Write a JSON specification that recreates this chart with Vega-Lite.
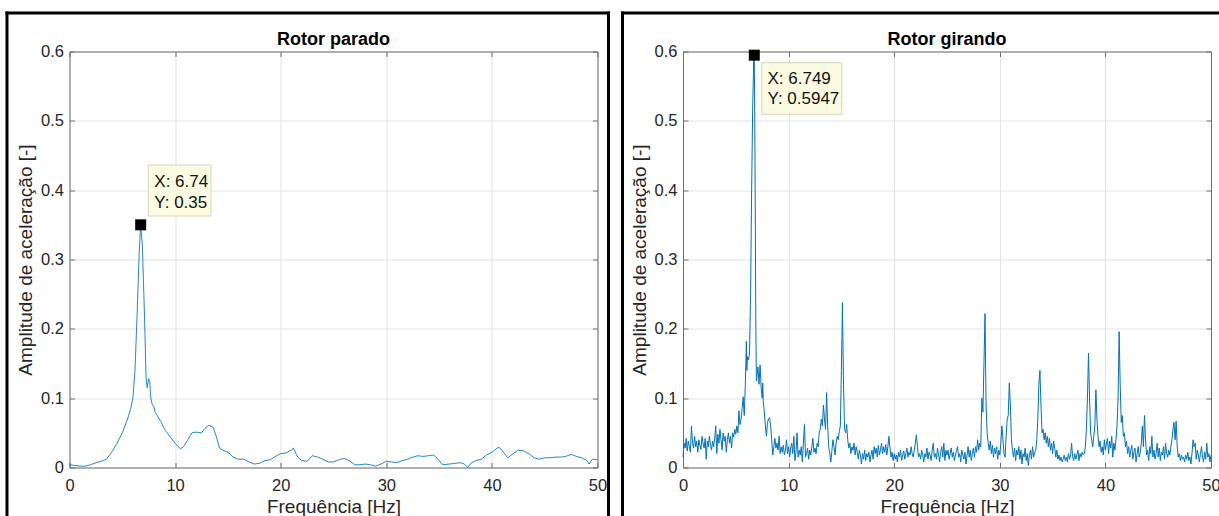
{
"$schema": "https://vega.github.io/schema/vega-lite/v6.json",
"background": "white",
"padding": {"left": 4.5, "top": 10.5, "right": 0, "bottom": 0},
"spacing": 8.5,
"config": {"view": {"stroke": null}, "font": "Liberation Sans"},
"datasets": {
"parado": [
{"f":0,"a":0.004},{"f":0.5,"a":0.003},{"f":1,"a":0.002},{"f":1.5,"a":0.002},{"f":2,"a":0.004},{"f":2.5,"a":0.007},{"f":3,"a":0.009},{"f":3.5,"a":0.012},{"f":4,"a":0.022},{"f":4.5,"a":0.035},{"f":5,"a":0.05},{"f":5.5,"a":0.07},{"f":5.8,"a":0.085},{"f":6.0,"a":0.1},{"f":6.2,"a":0.14},{"f":6.4,"a":0.22},{"f":6.6,"a":0.31},{"f":6.74,"a":0.35},{"f":6.9,"a":0.32},{"f":7.1,"a":0.22},{"f":7.25,"a":0.13},{"f":7.35,"a":0.115},{"f":7.5,"a":0.128},{"f":7.6,"a":0.124},{"f":7.7,"a":0.1},{"f":7.85,"a":0.09},{"f":8.0,"a":0.088},{"f":8.1,"a":0.08},{"f":8.3,"a":0.075},{"f":8.7,"a":0.065},{"f":9.0,"a":0.055},{"f":9.5,"a":0.045},{"f":10.0,"a":0.035},{"f":10.5,"a":0.027},{"f":10.8,"a":0.03},{"f":11.2,"a":0.04},{"f":11.6,"a":0.05},{"f":12.0,"a":0.051},{"f":12.5,"a":0.05},{"f":12.8,"a":0.056},{"f":13.2,"a":0.061},{"f":13.6,"a":0.058},{"f":13.9,"a":0.045},{"f":14.2,"a":0.028},{"f":14.5,"a":0.025},{"f":15,"a":0.022},{"f":15.5,"a":0.015},{"f":16,"a":0.012},{"f":16.5,"a":0.012},{"f":17,"a":0.008},{"f":17.5,"a":0.005},{"f":18,"a":0.006},{"f":18.5,"a":0.01},{"f":19,"a":0.011},{"f":19.5,"a":0.016},{"f":20,"a":0.02},{"f":20.5,"a":0.021},{"f":21,"a":0.025},{"f":21.2,"a":0.028},{"f":21.6,"a":0.015},{"f":22,"a":0.01},{"f":22.5,"a":0.009},{"f":23,"a":0.017},{"f":23.5,"a":0.015},{"f":24,"a":0.012},{"f":24.5,"a":0.008},{"f":25,"a":0.008},{"f":25.5,"a":0.011},{"f":26,"a":0.013},{"f":26.5,"a":0.01},{"f":27,"a":0.004},{"f":27.5,"a":0.004},{"f":28,"a":0.005},{"f":28.5,"a":0.004},{"f":29,"a":0.002},{"f":29.5,"a":0.005},{"f":30,"a":0.009},{"f":30.5,"a":0.008},{"f":31,"a":0.007},{"f":31.5,"a":0.01},{"f":32,"a":0.012},{"f":32.5,"a":0.015},{"f":33,"a":0.017},{"f":33.5,"a":0.016},{"f":34,"a":0.017},{"f":34.5,"a":0.018},{"f":35,"a":0.01},{"f":35.3,"a":0.004},{"f":36,"a":0.005},{"f":36.5,"a":0.006},{"f":37,"a":0.007},{"f":37.4,"a":0.005},{"f":37.7,"a":0.0},{"f":38,"a":0.006},{"f":38.5,"a":0.01},{"f":39,"a":0.012},{"f":39.5,"a":0.018},{"f":40,"a":0.022},{"f":40.5,"a":0.028},{"f":40.7,"a":0.029},{"f":41,"a":0.024},{"f":41.5,"a":0.014},{"f":42,"a":0.02},{"f":42.5,"a":0.025},{"f":43,"a":0.024},{"f":43.5,"a":0.02},{"f":44,"a":0.014},{"f":44.5,"a":0.012},{"f":45,"a":0.014},{"f":45.5,"a":0.014},{"f":46,"a":0.015},{"f":46.5,"a":0.015},{"f":47,"a":0.016},{"f":47.5,"a":0.019},{"f":48,"a":0.016},{"f":48.5,"a":0.014},{"f":49,"a":0.01},{"f":49.2,"a":0.005},{"f":49.5,"a":0.012},{"f":50,"a":0.011}
],
"girando": [
{"f":0.0,"a":0.015},{"f":0.1,"a":0.035},{"f":0.2,"a":0.028},{"f":0.3,"a":0.042},{"f":0.4,"a":0.024},{"f":0.5,"a":0.038},{"f":0.6,"a":0.03},{"f":0.7,"a":0.022},{"f":0.8,"a":0.06},{"f":0.9,"a":0.035},
{"f":1.0,"a":0.028},{"f":1.1,"a":0.045},{"f":1.2,"a":0.03},{"f":1.3,"a":0.038},{"f":1.4,"a":0.022},{"f":1.5,"a":0.04},{"f":1.6,"a":0.032},{"f":1.7,"a":0.026},{"f":1.8,"a":0.045},{"f":1.9,"a":0.035},
{"f":2.0,"a":0.028},{"f":2.1,"a":0.042},{"f":2.2,"a":0.012},{"f":2.3,"a":0.038},{"f":2.4,"a":0.03},{"f":2.5,"a":0.045},{"f":2.6,"a":0.033},{"f":2.7,"a":0.025},{"f":2.8,"a":0.038},{"f":2.9,"a":0.03},
{"f":3.0,"a":0.042},{"f":3.1,"a":0.06},{"f":3.2,"a":0.02},{"f":3.3,"a":0.048},{"f":3.4,"a":0.035},{"f":3.5,"a":0.055},{"f":3.6,"a":0.04},{"f":3.7,"a":0.025},{"f":3.8,"a":0.05},{"f":3.9,"a":0.038},
{"f":4.0,"a":0.045},{"f":4.1,"a":0.022},{"f":4.2,"a":0.04},{"f":4.3,"a":0.05},{"f":4.4,"a":0.035},{"f":4.5,"a":0.045},{"f":4.6,"a":0.028},{"f":4.7,"a":0.05},{"f":4.8,"a":0.044},{"f":4.9,"a":0.055},
{"f":5.0,"a":0.048},{"f":5.1,"a":0.06},{"f":5.2,"a":0.05},{"f":5.3,"a":0.082},{"f":5.4,"a":0.062},{"f":5.5,"a":0.07},{"f":5.6,"a":0.085},{"f":5.7,"a":0.102},{"f":5.8,"a":0.075},{"f":5.9,"a":0.12},
{"f":6.0,"a":0.182},{"f":6.05,"a":0.14},{"f":6.1,"a":0.16},{"f":6.2,"a":0.155},{"f":6.3,"a":0.165},{"f":6.4,"a":0.25},{"f":6.5,"a":0.4},{"f":6.6,"a":0.52},{"f":6.7,"a":0.59},{"f":6.749,"a":0.5947},
{"f":6.8,"a":0.5},{"f":6.85,"a":0.35},{"f":6.9,"a":0.2},{"f":6.95,"a":0.125},{"f":7.0,"a":0.13},{"f":7.1,"a":0.145},{"f":7.2,"a":0.12},{"f":7.3,"a":0.148},{"f":7.4,"a":0.115},{"f":7.5,"a":0.1},
{"f":7.55,"a":0.122},{"f":7.6,"a":0.095},{"f":7.7,"a":0.08},{"f":7.8,"a":0.06},{"f":7.9,"a":0.045},{"f":8.0,"a":0.065},{"f":8.1,"a":0.07},{"f":8.2,"a":0.072},{"f":8.3,"a":0.06},{"f":8.4,"a":0.04},
{"f":8.5,"a":0.018},{"f":8.6,"a":0.03},{"f":8.7,"a":0.042},{"f":8.8,"a":0.028},{"f":8.9,"a":0.035},{"f":9.0,"a":0.025},{"f":9.1,"a":0.045},{"f":9.2,"a":0.02},{"f":9.3,"a":0.03},{"f":9.4,"a":0.022},
{"f":9.5,"a":0.032},{"f":9.6,"a":0.018},{"f":9.7,"a":0.025},{"f":9.8,"a":0.04},{"f":9.9,"a":0.02},{"f":10.0,"a":0.03},{"f":10.1,"a":0.015},{"f":10.2,"a":0.028},{"f":10.3,"a":0.035},{"f":10.4,"a":0.02},
{"f":10.5,"a":0.045},{"f":10.6,"a":0.01},{"f":10.7,"a":0.022},{"f":10.8,"a":0.05},{"f":10.9,"a":0.015},{"f":11.0,"a":0.025},{"f":11.1,"a":0.018},{"f":11.2,"a":0.03},{"f":11.3,"a":0.008},{"f":11.4,"a":0.035},
{"f":11.5,"a":0.062},{"f":11.6,"a":0.015},{"f":11.7,"a":0.02},{"f":11.8,"a":0.028},{"f":11.9,"a":0.012},{"f":12.0,"a":0.025},{"f":12.1,"a":0.018},{"f":12.2,"a":0.03},{"f":12.3,"a":0.042},{"f":12.4,"a":0.022},
{"f":12.5,"a":0.028},{"f":12.6,"a":0.02},{"f":12.7,"a":0.035},{"f":12.8,"a":0.03},{"f":12.9,"a":0.05},{"f":13.0,"a":0.055},{"f":13.1,"a":0.07},{"f":13.2,"a":0.06},{"f":13.3,"a":0.09},{"f":13.4,"a":0.07},
{"f":13.5,"a":0.055},{"f":13.6,"a":0.108},{"f":13.7,"a":0.06},{"f":13.8,"a":0.03},{"f":13.9,"a":0.02},{"f":14.0,"a":0.008},{"f":14.1,"a":0.025},{"f":14.2,"a":0.04},{"f":14.3,"a":0.03},{"f":14.4,"a":0.018},
{"f":14.5,"a":0.035},{"f":14.6,"a":0.045},{"f":14.7,"a":0.04},{"f":14.8,"a":0.052},{"f":14.9,"a":0.06},{"f":15.0,"a":0.14},{"f":15.1,"a":0.238},{"f":15.2,"a":0.12},{"f":15.3,"a":0.055},{"f":15.4,"a":0.05},
{"f":15.5,"a":0.062},{"f":15.6,"a":0.04},{"f":15.7,"a":0.028},{"f":15.8,"a":0.035},{"f":15.9,"a":0.02},{"f":16.0,"a":0.03},{"f":16.1,"a":0.025},{"f":16.2,"a":0.035},{"f":16.3,"a":0.018},{"f":16.4,"a":0.03},
{"f":16.5,"a":0.022},{"f":16.6,"a":0.012},{"f":16.7,"a":0.025},{"f":16.8,"a":0.018},{"f":16.9,"a":0.005},{"f":17.0,"a":0.02},{"f":17.1,"a":0.012},{"f":17.2,"a":0.025},{"f":17.3,"a":0.01},{"f":17.4,"a":0.02},
{"f":17.5,"a":0.015},{"f":17.6,"a":0.022},{"f":17.7,"a":0.008},{"f":17.8,"a":0.018},{"f":17.9,"a":0.025},{"f":18.0,"a":0.012},{"f":18.1,"a":0.03},{"f":18.2,"a":0.02},{"f":18.3,"a":0.028},{"f":18.4,"a":0.015},
{"f":18.5,"a":0.032},{"f":18.6,"a":0.018},{"f":18.7,"a":0.025},{"f":18.8,"a":0.035},{"f":18.9,"a":0.02},{"f":19.0,"a":0.03},{"f":19.1,"a":0.022},{"f":19.2,"a":0.033},{"f":19.3,"a":0.018},{"f":19.4,"a":0.03},
{"f":19.5,"a":0.045},{"f":19.6,"a":0.028},{"f":19.7,"a":0.015},{"f":19.8,"a":0.022},{"f":19.9,"a":0.01},{"f":20.0,"a":0.02},{"f":20.1,"a":0.012},{"f":20.2,"a":0.018},{"f":20.3,"a":0.008},{"f":20.4,"a":0.022},
{"f":20.5,"a":0.015},{"f":20.6,"a":0.025},{"f":20.7,"a":0.01},{"f":20.8,"a":0.018},{"f":20.9,"a":0.024},{"f":21.0,"a":0.012},{"f":21.1,"a":0.02},{"f":21.2,"a":0.028},{"f":21.3,"a":0.015},{"f":21.4,"a":0.022},
{"f":21.5,"a":0.018},{"f":21.6,"a":0.03},{"f":21.7,"a":0.02},{"f":21.8,"a":0.015},{"f":21.9,"a":0.025},{"f":22.0,"a":0.035},{"f":22.1,"a":0.047},{"f":22.2,"a":0.03},{"f":22.3,"a":0.015},{"f":22.4,"a":0.02},
{"f":22.5,"a":0.012},{"f":22.6,"a":0.025},{"f":22.7,"a":0.018},{"f":22.8,"a":0.008},{"f":22.9,"a":0.02},{"f":23.0,"a":0.015},{"f":23.1,"a":0.028},{"f":23.2,"a":0.012},{"f":23.3,"a":0.022},{"f":23.4,"a":0.018},
{"f":23.5,"a":0.01},{"f":23.6,"a":0.025},{"f":23.7,"a":0.035},{"f":23.8,"a":0.015},{"f":23.9,"a":0.02},{"f":24.0,"a":0.012},{"f":24.1,"a":0.028},{"f":24.2,"a":0.018},{"f":24.3,"a":0.008},{"f":24.4,"a":0.022},
{"f":24.5,"a":0.03},{"f":24.6,"a":0.015},{"f":24.7,"a":0.035},{"f":24.8,"a":0.01},{"f":24.9,"a":0.025},{"f":25.0,"a":0.018},{"f":25.1,"a":0.025},{"f":25.2,"a":0.012},{"f":25.3,"a":0.02},{"f":25.4,"a":0.028},
{"f":25.5,"a":0.015},{"f":25.6,"a":0.022},{"f":25.7,"a":0.01},{"f":25.8,"a":0.018},{"f":25.9,"a":0.025},{"f":26.0,"a":0.03},{"f":26.1,"a":0.015},{"f":26.2,"a":0.02},{"f":26.3,"a":0.008},{"f":26.4,"a":0.025},
{"f":26.5,"a":0.018},{"f":26.6,"a":0.012},{"f":26.7,"a":0.022},{"f":26.8,"a":0.005},{"f":26.9,"a":0.018},{"f":27.0,"a":0.03},{"f":27.1,"a":0.015},{"f":27.2,"a":0.025},{"f":27.3,"a":0.01},{"f":27.4,"a":0.02},
{"f":27.5,"a":0.028},{"f":27.6,"a":0.015},{"f":27.7,"a":0.03},{"f":27.8,"a":0.022},{"f":27.9,"a":0.04},{"f":28.0,"a":0.025},{"f":28.1,"a":0.035},{"f":28.2,"a":0.03},{"f":28.3,"a":0.1},{"f":28.4,"a":0.08},
{"f":28.5,"a":0.15},{"f":28.6,"a":0.222},{"f":28.7,"a":0.09},{"f":28.8,"a":0.05},{"f":28.9,"a":0.035},{"f":29.0,"a":0.025},{"f":29.1,"a":0.038},{"f":29.2,"a":0.02},{"f":29.3,"a":0.032},{"f":29.4,"a":0.015},
{"f":29.5,"a":0.028},{"f":29.6,"a":0.02},{"f":29.7,"a":0.03},{"f":29.8,"a":0.012},{"f":29.9,"a":0.025},{"f":30.0,"a":0.018},{"f":30.1,"a":0.035},{"f":30.2,"a":0.06},{"f":30.3,"a":0.04},{"f":30.4,"a":0.02},
{"f":30.5,"a":0.015},{"f":30.6,"a":0.045},{"f":30.7,"a":0.07},{"f":30.8,"a":0.075},{"f":30.9,"a":0.122},{"f":31.0,"a":0.09},{"f":31.1,"a":0.04},{"f":31.2,"a":0.025},{"f":31.3,"a":0.015},{"f":31.4,"a":0.028},
{"f":31.5,"a":0.01},{"f":31.6,"a":0.025},{"f":31.7,"a":0.018},{"f":31.8,"a":0.03},{"f":31.9,"a":0.012},{"f":32.0,"a":0.025},{"f":32.1,"a":0.005},{"f":32.2,"a":0.02},{"f":32.3,"a":0.015},{"f":32.4,"a":0.028},
{"f":32.5,"a":0.01},{"f":32.6,"a":0.02},{"f":32.7,"a":0.003},{"f":32.8,"a":0.018},{"f":32.9,"a":0.025},{"f":33.0,"a":0.012},{"f":33.1,"a":0.03},{"f":33.2,"a":0.015},{"f":33.3,"a":0.022},{"f":33.4,"a":0.025},
{"f":33.5,"a":0.04},{"f":33.6,"a":0.07},{"f":33.7,"a":0.12},{"f":33.8,"a":0.14},{"f":33.9,"a":0.09},{"f":34.0,"a":0.05},{"f":34.1,"a":0.055},{"f":34.2,"a":0.04},{"f":34.3,"a":0.05},{"f":34.4,"a":0.035},
{"f":34.5,"a":0.045},{"f":34.6,"a":0.03},{"f":34.7,"a":0.042},{"f":34.8,"a":0.025},{"f":34.9,"a":0.035},{"f":35.0,"a":0.02},{"f":35.1,"a":0.038},{"f":35.2,"a":0.028},{"f":35.3,"a":0.015},{"f":35.4,"a":0.025},
{"f":35.5,"a":0.012},{"f":35.6,"a":0.018},{"f":35.7,"a":0.01},{"f":35.8,"a":0.015},{"f":35.9,"a":0.008},{"f":36.0,"a":0.012},{"f":36.1,"a":0.018},{"f":36.2,"a":0.01},{"f":36.3,"a":0.015},{"f":36.4,"a":0.008},
{"f":36.5,"a":0.02},{"f":36.6,"a":0.012},{"f":36.7,"a":0.018},{"f":36.8,"a":0.035},{"f":36.9,"a":0.015},{"f":37.0,"a":0.01},{"f":37.1,"a":0.02},{"f":37.2,"a":0.012},{"f":37.3,"a":0.018},{"f":37.4,"a":0.025},
{"f":37.5,"a":0.01},{"f":37.6,"a":0.02},{"f":37.7,"a":0.015},{"f":37.8,"a":0.022},{"f":37.9,"a":0.018},{"f":38.0,"a":0.02},{"f":38.1,"a":0.03},{"f":38.2,"a":0.055},{"f":38.3,"a":0.1},{"f":38.4,"a":0.165},
{"f":38.5,"a":0.1},{"f":38.6,"a":0.05},{"f":38.7,"a":0.04},{"f":38.8,"a":0.03},{"f":38.9,"a":0.045},{"f":39.0,"a":0.06},{"f":39.1,"a":0.112},{"f":39.2,"a":0.07},{"f":39.3,"a":0.045},{"f":39.4,"a":0.03},
{"f":39.5,"a":0.038},{"f":39.6,"a":0.022},{"f":39.7,"a":0.03},{"f":39.8,"a":0.018},{"f":39.9,"a":0.04},{"f":40.0,"a":0.025},{"f":40.1,"a":0.035},{"f":40.2,"a":0.042},{"f":40.3,"a":0.02},{"f":40.4,"a":0.038},
{"f":40.5,"a":0.028},{"f":40.6,"a":0.045},{"f":40.7,"a":0.015},{"f":40.8,"a":0.035},{"f":40.9,"a":0.025},{"f":41.0,"a":0.04},{"f":41.1,"a":0.06},{"f":41.2,"a":0.1},{"f":41.3,"a":0.196},{"f":41.4,"a":0.12},
{"f":41.5,"a":0.065},{"f":41.6,"a":0.075},{"f":41.7,"a":0.045},{"f":41.8,"a":0.05},{"f":41.9,"a":0.03},{"f":42.0,"a":0.038},{"f":42.1,"a":0.02},{"f":42.2,"a":0.03},{"f":42.3,"a":0.015},{"f":42.4,"a":0.025},
{"f":42.5,"a":0.032},{"f":42.6,"a":0.012},{"f":42.7,"a":0.022},{"f":42.8,"a":0.028},{"f":42.9,"a":0.008},{"f":43.0,"a":0.02},{"f":43.1,"a":0.03},{"f":43.2,"a":0.015},{"f":43.3,"a":0.022},{"f":43.4,"a":0.035},
{"f":43.5,"a":0.06},{"f":43.6,"a":0.03},{"f":43.7,"a":0.075},{"f":43.8,"a":0.04},{"f":43.9,"a":0.018},{"f":44.0,"a":0.025},{"f":44.1,"a":0.01},{"f":44.2,"a":0.03},{"f":44.3,"a":0.02},{"f":44.4,"a":0.045},
{"f":44.5,"a":0.015},{"f":44.6,"a":0.025},{"f":44.7,"a":0.012},{"f":44.8,"a":0.02},{"f":44.9,"a":0.035},{"f":45.0,"a":0.015},{"f":45.1,"a":0.028},{"f":45.2,"a":0.01},{"f":45.3,"a":0.022},{"f":45.4,"a":0.018},
{"f":45.5,"a":0.03},{"f":45.6,"a":0.012},{"f":45.7,"a":0.035},{"f":45.8,"a":0.02},{"f":45.9,"a":0.015},{"f":46.0,"a":0.025},{"f":46.1,"a":0.018},{"f":46.2,"a":0.03},{"f":46.3,"a":0.04},{"f":46.4,"a":0.055},
{"f":46.5,"a":0.065},{"f":46.6,"a":0.04},{"f":46.7,"a":0.067},{"f":46.8,"a":0.03},{"f":46.9,"a":0.015},{"f":47.0,"a":0.02},{"f":47.1,"a":0.01},{"f":47.2,"a":0.018},{"f":47.3,"a":0.012},{"f":47.4,"a":0.015},
{"f":47.5,"a":0.008},{"f":47.6,"a":0.018},{"f":47.7,"a":0.012},{"f":47.8,"a":0.022},{"f":47.9,"a":0.01},{"f":48.0,"a":0.015},{"f":48.1,"a":0.005},{"f":48.2,"a":0.02},{"f":48.3,"a":0.04},{"f":48.4,"a":0.03},
{"f":48.5,"a":0.035},{"f":48.6,"a":0.012},{"f":48.7,"a":0.025},{"f":48.8,"a":0.018},{"f":48.9,"a":0.008},{"f":49.0,"a":0.02},{"f":49.1,"a":0.03},{"f":49.2,"a":0.015},{"f":49.3,"a":0.008},{"f":49.4,"a":0.022},
{"f":49.5,"a":0.012},{"f":49.6,"a":0.035},{"f":49.7,"a":0.015},{"f":49.8,"a":0.02},{"f":49.9,"a":0.008},{"f":50.0,"a":0.018}
]
},
"hconcat": [
{
"width": 528, "height": 416,
"resolve": {"axis": {"x": "independent", "y": "independent"}},
"layer": [
{
"data": {"name": "parado"},
"mark": {"type": "line", "color": "#0072BD", "strokeWidth": 1, "opacity": 0.85},
"encoding": {
"x": {"field": "f", "type": "quantitative", "scale": {"domain": [0, 50], "nice": false, "zero": false},
 "axis": {"orient": "bottom", "values": [0,10,20,30,40,50], "format": "d", "grid": true, "gridColor": "#e3e3e3", "gridWidth": 1, "domainColor": "#6e6e6e", "tickColor": "#6e6e6e", "tickSize": -5, "labelPadding": 15, "labelFontSize": 16.5, "labelColor": "#262626", "labelFont": "Liberation Sans", "labelFlush": false, "labelOverlap": false, "title": "Frequência [Hz]", "titleFontSize": 19, "titleFontWeight": "normal", "titleColor": "#262626", "titleFont": "Liberation Sans", "titlePadding": 3}},
"y": {"field": "a", "type": "quantitative", "scale": {"domain": [0, 0.6], "nice": false, "zero": false},
 "axis": {"orient": "left", "values": [0,0.1,0.2,0.3,0.4,0.5,0.6], "format": ".1~f", "grid": true, "gridColor": "#e3e3e3", "gridWidth": 1, "domainColor": "#6e6e6e", "tickColor": "#6e6e6e", "tickSize": -5, "labelPadding": 11, "labelFontSize": 16.5, "labelColor": "#262626", "labelFont": "Liberation Sans", "labelFlush": false, "labelOverlap": false, "title": "Amplitude de aceleração [-]", "titleFontSize": 19, "titleFontWeight": "normal", "titleColor": "#262626", "titleFont": "Liberation Sans", "titlePadding": 5}}
}
},
{
"data": {"values": [{"x1": -5.92, "x2": -5.92, "y1": -0.0692, "y2": 0.6555}, {"x1": -5.92, "x2": 51.04, "y1": 0.6555, "y2": 0.6555}, {"x1": 51.04, "x2": 51.04, "y1": -0.0692, "y2": 0.6555}]},
"mark": {"type": "rule", "color": "#000000", "strokeWidth": 3, "strokeCap": "square", "clip": false},
"encoding": {"x": {"field": "x1", "type": "quantitative", "axis": null}, "x2": {"field": "x2"}, "y": {"field": "y1", "type": "quantitative", "axis": null}, "y2": {"field": "y2"}}
},
{
"data": {"values": [{"x": 25, "y": 0.6, "t": "Rotor parado"}]},
"mark": {"type": "text", "align": "center", "baseline": "alphabetic", "dy": -7, "fontSize": 18, "fontWeight": "bold", "font": "Liberation Sans", "color": "#000000", "clip": false},
"encoding": {"x": {"field": "x", "type": "quantitative", "axis": null}, "y": {"field": "y", "type": "quantitative", "axis": null}, "text": {"field": "t"}}
},
{
"data": {"values": [{"x1": 7.46, "x2": 13.4, "y1": 0.3627, "y2": 0.4363}]},
"mark": {"type": "rect", "fill": "#fbfbe2", "stroke": "#d6d6c0", "strokeWidth": 1},
"encoding": {"x": {"field": "x1", "type": "quantitative", "axis": null}, "x2": {"field": "x2"}, "y": {"field": "y1", "type": "quantitative", "axis": null}, "y2": {"field": "y2"}}
},
{
"data": {"values": [{"x": 8.03, "y": 0.4122, "t": "X: 6.74"}, {"x": 8.03, "y": 0.3819, "t": "Y: 0.35"}]},
"mark": {"type": "text", "align": "left", "baseline": "middle", "fontSize": 17, "font": "Liberation Sans", "color": "#111111"},
"encoding": {"x": {"field": "x", "type": "quantitative", "axis": null}, "y": {"field": "y", "type": "quantitative", "axis": null}, "text": {"field": "t"}}
},
{
"data": {"values": [{"f": 6.74, "a": 0.35}]},
"mark": {"type": "point", "shape": "square", "filled": true, "color": "#000000", "size": 121, "opacity": 1, "clip": false},
"encoding": {
"x": {"field": "f", "type": "quantitative", "axis": {"orient": "top", "values": [0,10,20,30,40,50], "labels": false, "grid": false, "domainColor": "#6e6e6e", "tickColor": "#6e6e6e", "tickSize": -5, "title": null}},
"y": {"field": "a", "type": "quantitative", "axis": {"orient": "right", "values": [0,0.1,0.2,0.3,0.4,0.5,0.6], "labels": false, "grid": false, "domainColor": "#6e6e6e", "tickColor": "#6e6e6e", "tickSize": -5, "title": null}}
}
}
]
},
{
"width": 528, "height": 416,
"resolve": {"axis": {"x": "independent", "y": "independent"}},
"layer": [
{
"data": {"name": "girando"},
"mark": {"type": "line", "color": "#0072BD", "strokeWidth": 1},
"encoding": {
"x": {"field": "f", "type": "quantitative", "scale": {"domain": [0, 50], "nice": false, "zero": false},
 "axis": {"orient": "bottom", "values": [0,10,20,30,40,50], "format": "d", "grid": true, "gridColor": "#e3e3e3", "gridWidth": 1, "domainColor": "#6e6e6e", "tickColor": "#6e6e6e", "tickSize": -5, "labelPadding": 15, "labelFontSize": 16.5, "labelColor": "#262626", "labelFont": "Liberation Sans", "labelFlush": false, "labelOverlap": false, "title": "Frequência [Hz]", "titleFontSize": 19, "titleFontWeight": "normal", "titleColor": "#262626", "titleFont": "Liberation Sans", "titlePadding": 3}},
"y": {"field": "a", "type": "quantitative", "scale": {"domain": [0, 0.6], "nice": false, "zero": false},
 "axis": {"orient": "left", "values": [0,0.1,0.2,0.3,0.4,0.5,0.6], "format": ".1~f", "grid": true, "gridColor": "#e3e3e3", "gridWidth": 1, "domainColor": "#6e6e6e", "tickColor": "#6e6e6e", "tickSize": -5, "labelPadding": 11, "labelFontSize": 16.5, "labelColor": "#262626", "labelFont": "Liberation Sans", "labelFlush": false, "labelOverlap": false, "title": "Amplitude de aceleração [-]", "titleFontSize": 19, "titleFontWeight": "normal", "titleColor": "#262626", "titleFont": "Liberation Sans", "titlePadding": 5}}
}
},
{
"data": {"values": [{"x1": -5.73, "x2": -5.73, "y1": -0.0692, "y2": 0.6555}, {"x1": -5.73, "x2": 50.95, "y1": 0.6555, "y2": 0.6555}, {"x1": 50.95, "x2": 50.95, "y1": -0.0692, "y2": 0.6555}]},
"mark": {"type": "rule", "color": "#000000", "strokeWidth": 3, "strokeCap": "square", "clip": false},
"encoding": {"x": {"field": "x1", "type": "quantitative", "axis": null}, "x2": {"field": "x2"}, "y": {"field": "y1", "type": "quantitative", "axis": null}, "y2": {"field": "y2"}}
},
{
"data": {"values": [{"x": 25, "y": 0.6, "t": "Rotor girando"}]},
"mark": {"type": "text", "align": "center", "baseline": "alphabetic", "dy": -7, "fontSize": 18, "fontWeight": "bold", "font": "Liberation Sans", "color": "#000000", "clip": false},
"encoding": {"x": {"field": "x", "type": "quantitative", "axis": null}, "y": {"field": "y", "type": "quantitative", "axis": null}, "text": {"field": "t"}}
},
{
"data": {"values": [{"x1": 7.46, "x2": 15.04, "y1": 0.5094, "y2": 0.5839}]},
"mark": {"type": "rect", "fill": "#fbfbe2", "stroke": "#d6d6c0", "strokeWidth": 1},
"encoding": {"x": {"field": "x1", "type": "quantitative", "axis": null}, "x2": {"field": "x2"}, "y": {"field": "y1", "type": "quantitative", "axis": null}, "y2": {"field": "y2"}}
},
{
"data": {"values": [{"x": 8.0, "y": 0.5599, "t": "X: 6.749"}, {"x": 8.0, "y": 0.531, "t": "Y: 0.5947"}]},
"mark": {"type": "text", "align": "left", "baseline": "middle", "fontSize": 17, "font": "Liberation Sans", "color": "#111111"},
"encoding": {"x": {"field": "x", "type": "quantitative", "axis": null}, "y": {"field": "y", "type": "quantitative", "axis": null}, "text": {"field": "t"}}
},
{
"data": {"values": [{"f": 6.749, "a": 0.5947}]},
"mark": {"type": "point", "shape": "square", "filled": true, "color": "#000000", "size": 121, "opacity": 1, "clip": false},
"encoding": {
"x": {"field": "f", "type": "quantitative", "axis": {"orient": "top", "values": [0,10,20,30,40,50], "labels": false, "grid": false, "domainColor": "#6e6e6e", "tickColor": "#6e6e6e", "tickSize": -5, "title": null}},
"y": {"field": "a", "type": "quantitative", "axis": {"orient": "right", "values": [0,0.1,0.2,0.3,0.4,0.5,0.6], "labels": false, "grid": false, "domainColor": "#6e6e6e", "tickColor": "#6e6e6e", "tickSize": -5, "title": null}}
}
}
]
}
]
}
